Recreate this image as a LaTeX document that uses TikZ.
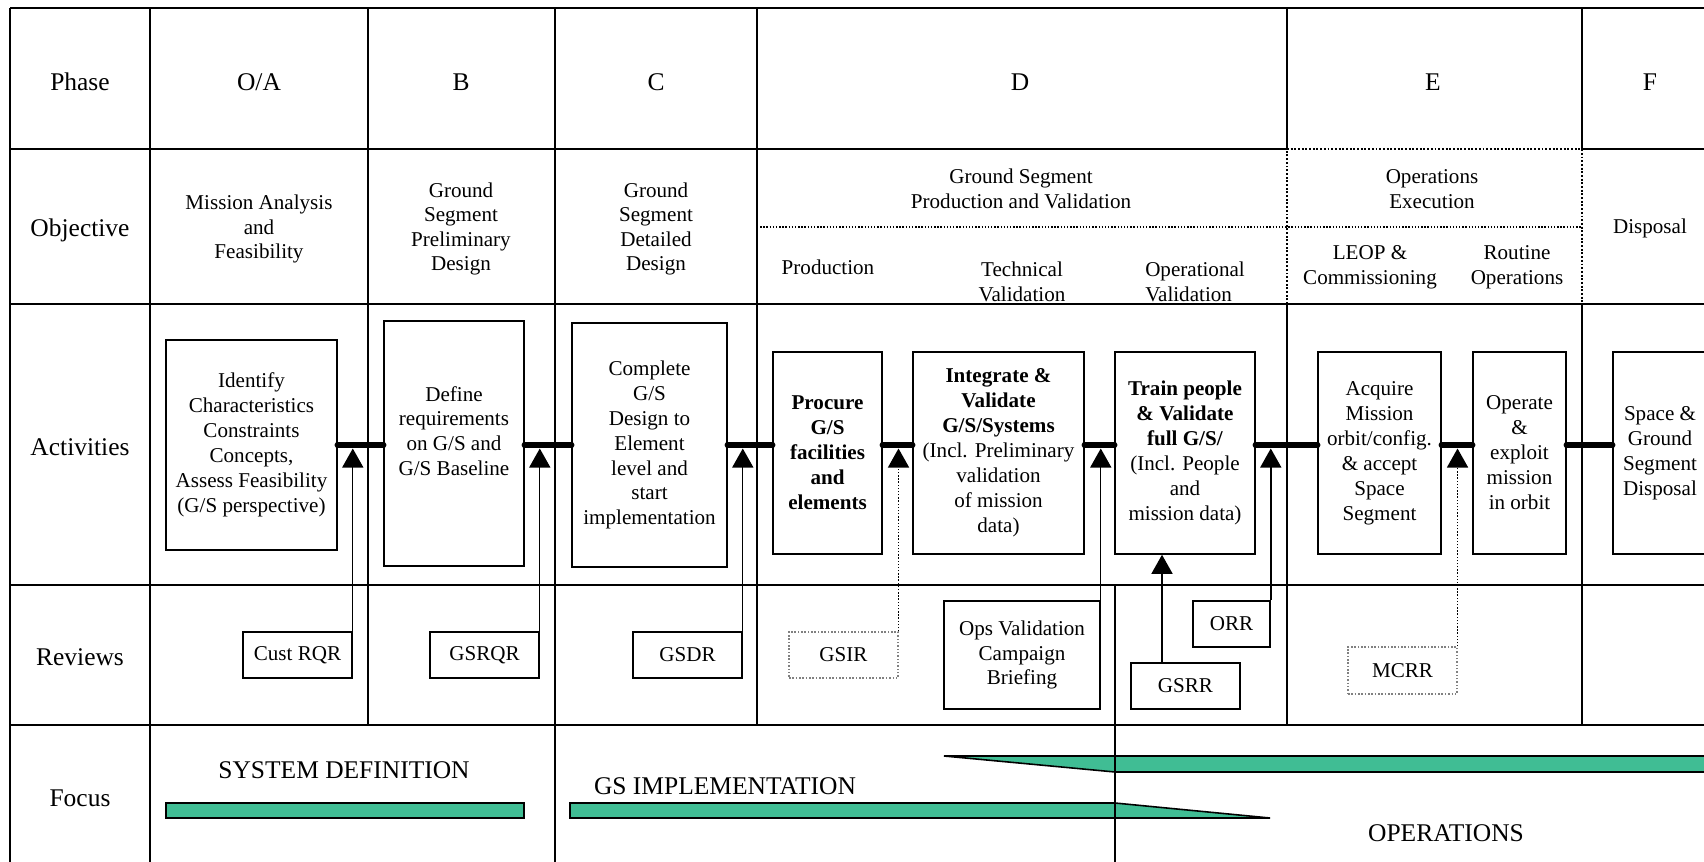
\documentclass[tikz,border=0pt]{standalone}
\usepackage{fontspec}
\setmainfont{Liberation Serif}
\usepackage{tikz}
\usetikzlibrary{arrows.meta}
\definecolor{focusgreen}{RGB}{64,189,148}

\begin{document}
\begin{tikzpicture}[x=0.02cm,y=-0.02cm,
  grid/.style={line width=1.1pt},
  head/.style={anchor=base,font=\fontsize{14.5}{17}\selectfont},
  txt/.style={align=center,font=\fontsize{12}{14}\selectfont},
  actbox/.style={draw,line width=0.9pt,align=center,inner sep=1pt,font=\fontsize{12}{14.2}\selectfont},
  revbox/.style={draw,line width=0.9pt,align=center,inner sep=1pt,font=\fontsize{12}{14.2}\selectfont},
  softbox/.style={revbox,draw=gray,densely dotted,line width=0.6pt},
  bar/.style={line width=0.13cm,line cap=round},
  rev/.style={line width=0.8pt,-{Triangle[width=0.42cm,length=0.38cm]}},
  focus/.style={draw,line width=0.9pt,fill=focusgreen}]
\clip (0,0) rectangle (1704,862);
\draw[focus] (166,803) rectangle (524,818);
\draw[focus] (570,803) -- (1115,803) -- (1270,818) -- (570,818) -- cycle;
\draw[focus] (944,756) -- (1710,756) -- (1710,772) -- (1115,772) -- cycle;
\draw[grid] (10,8) -- (1704,8);
\draw[grid] (10,149) -- (1287,149);
\draw[grid] (1582,149) -- (1704,149);
\draw[grid] (10,304) -- (1704,304);
\draw[grid] (10,585) -- (1704,585);
\draw[grid] (10,725) -- (1704,725);
\draw[grid] (10,8) -- (10,862);
\draw[grid] (150,8) -- (150,862);
\draw[grid] (368,8) -- (368,725);
\draw[grid] (555,8) -- (555,862);
\draw[grid] (757,8) -- (757,725);
\draw[grid] (1287,8) -- (1287,149);
\draw[grid] (1287,304) -- (1287,725);
\draw[grid] (1582,8) -- (1582,149);
\draw[grid] (1582,304) -- (1582,725);
\draw[grid] (1115,585) -- (1115,862);
\draw[grid,densely dotted] (1287,304) -- (1287,149) -- (1582,149) -- (1582,304);
\draw[densely dotted,line width=0.8pt] (757,227) -- (1582,227);
\node[head] (phase) at (80,90) {Phase};
\node[head] (pa) at (259,90) {O/A};
\node[head] (pb) at (461,90) {B};
\node[head] (pc) at (656,90) {C};
\node[head] (pd) at (1020,90) {D};
\node[head] (pe) at (1433,90) {E};
\node[head] (pf) at (1650,90) {F};
\node[head] (objective) at (80,236) {Objective};
\node[head] (activities) at (80,455) {Activities};
\node[head] (reviews) at (80,665) {Reviews};
\node[head] (focus) at (80,806) {Focus};
\node[txt] (oa) at (259,229) {Mission Analysis\\and\\Feasibility};
\node[txt] (ob) at (461,229) {Ground\\Segment\\Preliminary\\Design};
\node[txt] (oc) at (656,229) {Ground\\Segment\\Detailed\\Design};
\node[txt] (od) at (1021,189) {Ground Segment\\Production and Validation};
\node[txt] (odprod) at (828,267) {Production};
\node[txt] (odtech) at (1022,282) {Technical\\Validation};
\node[txt,align=left] (odops) at (1195,282) {Operational\\Validation};
\node[txt] (oe) at (1432,189) {Operations\\Execution};
\node[txt] (oeleop) at (1370,267) {LEOP \&\\Commissioning};
\node[txt] (oerout) at (1517,267) {Routine\\Operations};
\node[txt] (of) at (1650,228) {Disposal};
\node[actbox,minimum width=3.42cm,minimum height=4.2cm] (idbox) at (251.5,445) {Identify\\Characteristics\\Constraints\\Concepts,\\Assess Feasibility\\(G/S perspective)};
\node[actbox,minimum width=2.8cm,minimum height=4.9cm] (defbox) at (454,443.5) {Define\\requirements\\on G/S and\\G/S Baseline\\};
\node[actbox,minimum width=3.1cm,minimum height=4.88cm] (cmpbox) at (649.5,445) {Complete\\G/S\\Design to\\Element\\level and\\start\\implementation};
\node[actbox,minimum width=2.18cm,minimum height=4.04cm] (procbox) at (827.5,453) {\textbf{Procure}\\\textbf{G/S}\\\textbf{facilities}\\\textbf{and}\\\textbf{elements}};
\node[actbox,minimum width=3.42cm,minimum height=4.04cm] (intbox) at (998.5,453) {\textbf{Integrate \&}\\\textbf{Validate}\\\textbf{G/S/Systems}\\(Incl. Preliminary\\validation\\of mission\\data)};
\node[actbox,minimum width=2.8cm,minimum height=4.04cm] (trainbox) at (1185,453) {\textbf{Train people}\\\textbf{\& Validate}\\\textbf{full G/S/}\\(Incl. People\\and\\mission data)};
\node[actbox,minimum width=2.46cm,minimum height=4.04cm] (acqbox) at (1379.5,453) {Acquire\\Mission\\orbit/config.\\\& accept\\Space\\Segment};
\node[actbox,minimum width=1.86cm,minimum height=4.04cm] (opbox) at (1519.5,453) {Operate\\\&\\exploit\\mission\\in orbit};
\node[actbox,minimum width=1.88cm,minimum height=4.04cm] (dispbox) at (1660,453) {Space \&\\Ground\\Segment\\Disposal};
\coordinate (barline) at (0,445);
\coordinate (tipline) at (0,448.5);
\draw[bar] (idbox.east|-barline) -- (defbox.west|-barline);
\draw[bar] (defbox.east|-barline) -- (cmpbox.west|-barline);
\draw[bar] (cmpbox.east|-barline) -- (procbox.west|-barline);
\draw[bar] (procbox.east|-barline) -- (intbox.west|-barline);
\draw[bar] (intbox.east|-barline) -- (trainbox.west|-barline);
\draw[bar] (trainbox.east|-barline) -- (acqbox.west|-barline);
\draw[bar] (acqbox.east|-barline) -- (opbox.west|-barline);
\draw[bar] (opbox.east|-barline) -- (dispbox.west|-barline);
\node[revbox,minimum width=2.18cm,minimum height=0.92cm] (custrqr) at (297.5,655) {Cust RQR};
\node[revbox,minimum width=2.18cm,minimum height=0.92cm] (gsrqr) at (484.5,655) {GSRQR};
\node[revbox,minimum width=2.18cm,minimum height=0.92cm] (gsdr) at (687.5,655) {GSDR};
\node[softbox,minimum width=2.18cm,minimum height=0.92cm] (gsir) at (843.5,655) {GSIR};
\node[revbox,minimum width=3.12cm,minimum height=2.16cm] (opsval) at (1022,655) {Ops Validation\\Campaign\\Briefing};
\node[revbox,minimum width=2.18cm,minimum height=0.92cm] (gsrr) at (1185.5,686) {GSRR};
\node[revbox,minimum width=1.54cm,minimum height=0.92cm] (orr) at (1231.5,624) {ORR};
\node[softbox,minimum width=2.18cm,minimum height=0.94cm] (mcrr) at (1402.5,670.5) {MCRR};
\coordinate (gsrrfoot) at ([xshift=-0.47cm]gsrr.north);
\draw[rev] (custrqr.north east) -- (custrqr.north east|-tipline);
\draw[rev] (gsrqr.north east) -- (gsrqr.north east|-tipline);
\draw[rev] (gsdr.north east) -- (gsdr.north east|-tipline);
\draw[rev,densely dotted] (gsir.north east) -- (gsir.north east|-tipline);
\draw[rev] (opsval.north east) -- (opsval.north east|-tipline);
\draw[rev] (gsrrfoot) -- (gsrrfoot|-trainbox.south);
\draw[rev] (orr.north east) -- (orr.north east|-tipline);
\draw[rev,densely dotted] (mcrr.north east) -- (mcrr.north east|-tipline);
\node[head] (sysdef) at (344,778) {SYSTEM DEFINITION};
\node[head] (gsimpl) at (725,794) {GS IMPLEMENTATION};
\node[head] (ops) at (1446,841) {OPERATIONS};
\end{tikzpicture}
\end{document}
